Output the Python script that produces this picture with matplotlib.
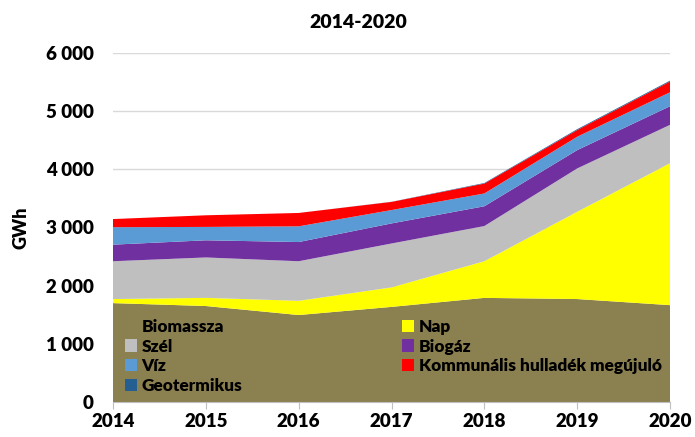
import matplotlib.pyplot as plt
from matplotlib.patches import Patch

years = [2014, 2015, 2016, 2017, 2018, 2019, 2020]
biomassza = [1700, 1650, 1495, 1635, 1790, 1770, 1665]
nap = [70, 140, 245, 335, 630, 1500, 2440]
szel = [650, 695, 680, 755, 605, 745, 660]
biogaz = [285, 295, 330, 345, 340, 315, 320]
viz = [300, 230, 270, 230, 220, 230, 240]
kommunalis = [140, 200, 230, 140, 170, 115, 185]
geotermikus = [0, 0, 0, 2, 10, 15, 15]

names = ['Biomassza', 'Nap', 'Szél', 'Biogáz', 'Víz',
         'Kommunális hulladék megújuló', 'Geotermikus']
colors = ['#8B8050', '#FFFF00', '#BFBFBF', '#7030A0', '#5B9BD5', '#FF0000', '#255E91']

plt.rcParams['font.family'] = ['Lato', 'DejaVu Sans']
W = 'heavy'

fig = plt.figure(figsize=(6.95, 4.37), dpi=100)
ax = fig.add_axes([113/695, 1-402/437, 557/695, 349/437])

ax.stackplot(years, biomassza, nap, szel, biogaz, viz, kommunalis, geotermikus,
             colors=colors, linewidth=0)

ax.set_xlim(2014, 2020)
ax.set_ylim(0, 6000)
ax.set_yticks(range(0, 6001, 1000))
ax.set_yticklabels(['0', '1 000', '2 000', '3 000', '4 000', '5 000', '6 000'])
ax.set_xticks(years)
ax.tick_params(axis='y', length=0, labelsize=13.5, pad=14)
ax.tick_params(axis='x', length=5, color='#BFBFBF', labelsize=13.5, pad=3)
for lab in ax.get_xticklabels() + ax.get_yticklabels():
    lab.set_fontweight(W)
ax.grid(axis='y', color='#D9D9D9', linewidth=1)
ax.set_axisbelow(True)
for s in ['top', 'right', 'left']:
    ax.spines[s].set_visible(False)
ax.spines['bottom'].set_color('#BFBFBF')
ax.set_ylabel('GWh', fontsize=13, fontweight=W, labelpad=12)
fig.text(358/695, 1-23/437, '2014-2020', fontsize=14, fontweight=W,
         ha='center', va='center')

# legenda em duas colunas, sem moldura, dentro da area de biomassa
order = [0, 2, 4, 6, 1, 3, 5]
handles = [Patch(facecolor=colors[i], edgecolor='none') for i in order]
labels = [names[i] for i in order]
ax.legend(handles, labels, ncol=2, loc='upper left', bbox_to_anchor=(-0.006, 0.283),
          frameon=False, handlelength=0.7, handleheight=0.7,
          handletextpad=0.25, columnspacing=9.3, labelspacing=0.22,
          prop={'weight': W, 'size': 12.4})

fig.savefig('out.png', dpi=100)
